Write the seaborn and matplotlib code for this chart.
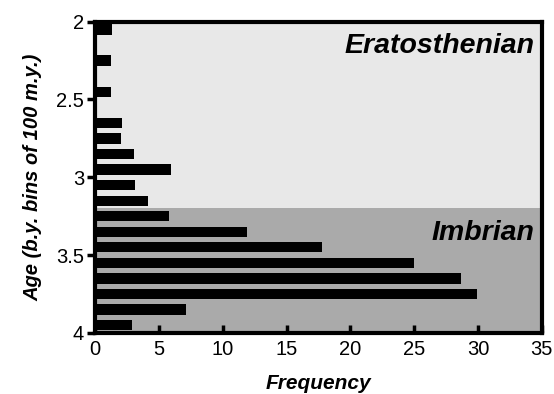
import matplotlib
matplotlib.use("Agg")
import matplotlib.pyplot as plt
import seaborn as sns
import pandas as pd

# Data: age bins (b.y., bin centres) and crater frequency
age = [2.05, 2.25, 2.45, 2.65, 2.75, 2.85, 2.95, 3.05, 3.15, 3.25,
       3.35, 3.45, 3.55, 3.65, 3.75, 3.85, 3.95]
freq = [1.3, 1.2, 1.2, 2.1, 2.0, 3.0, 5.9, 3.1, 4.1, 5.8,
        11.9, 17.8, 25.0, 28.7, 29.9, 7.1, 2.9]
period_boundary = 3.2

df = pd.DataFrame({'Age': age, 'Frequency': freq})

sns.set_style("ticks")
plt.rcParams['font.family'] = ['Liberation Sans', 'DejaVu Sans']
plt.rcParams['text.color'] = 'black'
plt.rcParams['axes.labelcolor'] = 'black'
plt.rcParams['xtick.color'] = 'black'
plt.rcParams['ytick.color'] = 'black'

fig = plt.figure(figsize=(5.54, 3.94), dpi=100)
ax = fig.add_axes([0.172, 0.155, 0.806, 0.79])

ax.axhspan(2, period_boundary, color='#e8e8e8', zorder=0, lw=0)
ax.axhspan(period_boundary, 4, color='#aaaaaa', zorder=0, lw=0)

sns.barplot(data=df, x='Frequency', y='Age', orient='h', native_scale=True,
            width=0.66, color='black', saturation=1, edgecolor='black',
            linewidth=0, ax=ax, zorder=2)

ax.set_xlim(0, 35)
ax.set_ylim(4, 2)
ax.set_xticks([0, 5, 10, 15, 20, 25, 30, 35])
ax.set_yticks([2, 2.5, 3, 3.5, 4])
ax.set_yticklabels(['2', '2.5', '3', '3.5', '4'])

for s in ax.spines.values():
    s.set_linewidth(3)
    s.set_color('black')
    s.set_visible(True)

ax.tick_params(axis='y', direction='out', left=True, length=6, width=2.5,
               labelsize=14.5, pad=2)
ax.tick_params(axis='x', direction='in', bottom=True, length=6, width=2.5,
               labelsize=14.5, pad=5)

ax.set_xlabel('Frequency', fontsize=15, fontweight='bold', fontstyle='italic', labelpad=11)
ax.set_ylabel('Age (b.y. bins of 100 m.y.)', fontsize=14.5, fontweight='bold',
              fontstyle='italic', labelpad=10)

ax.text(34.4, 2.155, 'Eratosthenian', fontsize=20.5, fontweight='bold',
        fontstyle='italic', ha='right', va='center', zorder=3)
ax.text(34.4, 3.355, 'Imbrian', fontsize=20.5, fontweight='bold',
        fontstyle='italic', ha='right', va='center', zorder=3)

fig.savefig('out.png', dpi=100)
